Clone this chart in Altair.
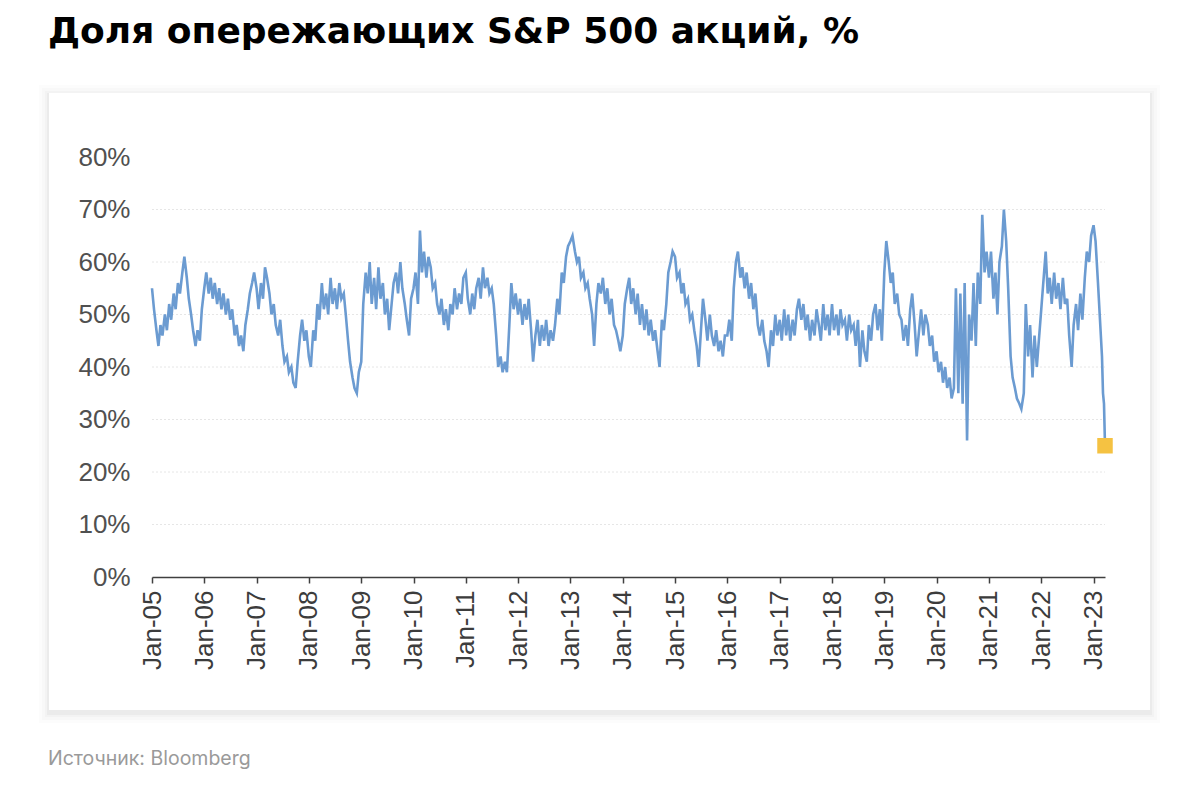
import altair as alt
import pandas as pd

# ---- data (semi-monthly: 1st and 15th of each month) ----
v2005 = [55, 51, 47, 44, 48, 46, 50, 47, 52, 49, 54, 51, 56, 54, 58, 61, 57, 53, 50, 47, 44, 47, 45, 51]
v2006 = [55, 58, 54, 57, 53, 56, 52, 55, 51, 54, 50, 53, 49, 51, 46, 48, 44, 46, 43, 48, 51, 54, 56, 58]
v2007 = [55, 51, 56, 53, 59, 57, 54, 50, 52, 48, 46, 49, 44, 41, 42, 39, 40, 37, 36, 41, 46, 49, 45, 47]
v2008 = [42, 40, 47, 45, 52, 49, 56, 51, 54, 50, 57, 52, 55, 51, 56, 53, 54, 50, 45, 41, 38, 36, 35, 39]
v2009 = [41, 52, 58, 54, 60, 52, 57, 51, 59, 53, 56, 50, 53, 47, 52, 56, 58, 54, 60, 55, 52, 49, 46, 53]
v2010 = [55, 58, 52, 66, 58, 62, 57, 61, 59, 55, 56, 52, 50, 53, 48, 51, 47, 52, 50, 55, 51, 54, 52, 57]
v2011 = [58, 53, 50, 54, 51, 55, 57, 53, 59, 55, 57, 54, 55, 52, 46, 40, 42, 39, 41, 39, 48, 56, 51, 54]
v2012 = [50, 53, 48, 52, 49, 53, 47, 41, 46, 49, 44, 48, 45, 49, 44, 47, 45, 48, 53, 50, 58, 56, 61, 63]
v2013 = [64, 65, 62, 60, 61, 57, 58, 55, 56, 53, 50, 44, 52, 56, 54, 57, 52, 55, 50, 53, 48, 47, 45, 43]
v2014 = [46, 52, 55, 57, 52, 55, 50, 54, 48, 52, 47, 51, 46, 49, 45, 47, 43, 40, 49, 47, 52, 58, 60, 62]
v2015 = [61, 57, 58, 54, 56, 52, 53, 49, 50, 47, 44, 40, 47, 53, 49, 45, 50, 46, 44, 47, 43, 45, 42, 46]
v2016 = [46, 49, 45, 55, 60, 62, 57, 59, 55, 58, 53, 56, 51, 54, 48, 46, 49, 45, 43, 40, 47, 44, 50, 46]
v2017 = [49, 45, 51, 46, 50, 45, 49, 46, 51, 53, 49, 52, 47, 50, 45, 49, 46, 51, 48, 45, 52, 47, 50, 46]
v2018 = [52, 47, 50, 46, 51, 48, 49, 45, 50, 47, 48, 44, 49, 40, 47, 43, 41, 48, 45, 50, 52, 47, 51, 45]
v2019 = [58, 64, 60, 56, 58, 52, 54, 50, 49, 45, 48, 44, 51, 54, 48, 42, 47, 51, 46, 50, 48, 44, 46, 41]
v2020 = [43, 39, 41, 37, 40, 36, 38, 34, 36, 55, 35, 54, 33, 56, 26, 50, 45, 56, 44, 58, 52, 69, 58, 62]
v2021 = [57, 62, 53, 58, 50, 60, 63, 70, 64, 55, 42, 38, 36, 34, 33, 32, 35, 52, 42, 48, 38, 46, 40, 45]
v2022 = [51, 56, 62, 54, 57, 52, 58, 53, 56, 51, 57, 52, 53, 46, 40, 48, 52, 47, 54, 49, 57, 62, 60, 65]
d2023 = ["2023-01-01", "2023-01-15", "2023-02-01", "2023-02-15", "2023-03-01", "2023-03-08", "2023-03-15", "2023-03-22"]
v2023 = [67, 64, 56, 49, 42, 35, 33, 25]

years = {2005: v2005, 2006: v2006, 2007: v2007, 2008: v2008, 2009: v2009, 2010: v2010,
         2011: v2011, 2012: v2012, 2013: v2013, 2014: v2014, 2015: v2015, 2016: v2016,
         2017: v2017, 2018: v2018, 2019: v2019, 2020: v2020, 2021: v2021, 2022: v2022}

y_ticks = [0, 10, 20, 30, 40, 50, 60, 70, 80]
grid_vals = [10, 20, 30, 40, 50, 60, 70]
x_ticks = [f"{y}-01-01" for y in range(2005, 2024)]

title_text = "Доля опережающих S&P 500 акций, %"
source_text = "Источник: Bloomberg"

rows = []
for yr, vals in years.items():
    for i, v in enumerate(vals):
        m = i // 2 + 1
        d = 1 if i % 2 == 0 else 15
        rows.append({"date": f"{yr}-{m:02d}-{d:02d}", "v": v})
for d, v in zip(d2023, v2023):
    rows.append({"date": d, "v": v})
df = pd.DataFrame(rows)
last = df.tail(1)

W, H = 953, 420
x_scale = alt.Scale(domain=["2005-01-01", "2023-03-22"])
y_scale = alt.Scale(domain=[0, 80], nice=False, zero=True)

x_axis = alt.Axis(values=x_ticks, format="%b-%y", labelAngle=270,
                  labelFont="Liberation Sans", labelFontSize=26,
                  labelColor="#3c3c3c", labelPadding=7,
                  tickSize=6, tickColor="#404040", tickWidth=1.5,
                  domainColor="#404040", domainWidth=1.5,
                  grid=False, title=None, labelOverlap=False, zindex=2)
y_axis = alt.Axis(values=y_ticks, labelExpr="datum.value + '%'",
                  labelFont="Liberation Sans", labelFontSize=26,
                  labelColor="#505050", labelPadding=22,
                  domain=False, ticks=False, grid=False, title=None, zindex=2)

dummy = pd.DataFrame({"a": [0]})
base_dummy = alt.Chart(dummy)

# card shadow + card
shadow_layers = []
for k, op in [(10, 0.012), (7, 0.015), (4, 0.02), (2, 0.03)]:
    shadow_layers.append(
        base_dummy.mark_rect(color="#000000", opacity=op).encode(
            x=alt.value(-103 - k), x2=alt.value(998 + k),
            y=alt.value(-64 - k + 2), y2=alt.value(553 + k + 3))
    )
card = base_dummy.mark_rect(color="#ffffff").encode(
    x=alt.value(-103), x2=alt.value(998), y=alt.value(-64), y2=alt.value(553))

grid = alt.Chart(pd.DataFrame({"g": grid_vals})).mark_rule(
    color="#e6e6e6", strokeWidth=1, strokeDash=[2, 2]
).encode(
    y=alt.Y("g:Q", scale=y_scale, axis=y_axis),
    x=alt.value(0), x2=alt.value(W),
)

line = alt.Chart(df).mark_line(color="#6b9bd1", strokeWidth=2.6).encode(
    x=alt.X("date:T", scale=x_scale, axis=x_axis),
    y=alt.Y("v:Q", scale=y_scale, axis=y_axis),
)

pt = alt.Chart(last).mark_square(color="#f5c242", opacity=1, size=240).encode(
    x=alt.X("date:T", scale=x_scale, axis=x_axis),
    y=alt.Y("v:Q", scale=y_scale, axis=y_axis))

title = base_dummy.mark_text(
    text=title_text, font="DejaVu Sans", fontSize=36, fontWeight="bold",
    color="#000000", align="left", baseline="alphabetic"
).encode(x=alt.value(-104), y=alt.value(-114))

source = base_dummy.mark_text(
    text=source_text, font="Inter", fontSize=19.5, color="#9a9a9a",
    align="left", baseline="alphabetic"
).encode(x=alt.value(-104), y=alt.value(608))

chart = alt.layer(*shadow_layers, card, grid, line, pt, title, source).properties(
    width=W, height=H,
    autosize=alt.AutoSizeParams(type="none"),
    padding={"left": 144, "top": 149, "right": 80, "bottom": 200},
).configure_view(stroke=None).configure(background="#ffffff")

chart.save("out.html", embed_options={"renderer": "svg", "actions": False})
